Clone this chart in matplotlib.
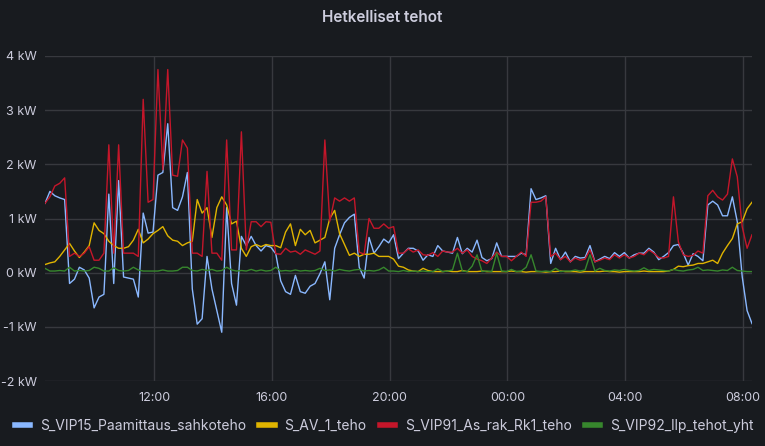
import numpy as np
import pandas as pd
import matplotlib
matplotlib.use("Agg")
import matplotlib.pyplot as plt
import matplotlib.dates as mdates
from matplotlib.lines import Line2D

plt.rcParams["font.family"] = ["Inter", "DejaVu Sans"]

# 10-minute samples, 08:18 -> 08:18 next day (kW)
START = "2023-01-10 08:18"
vip15 = [1.28, 1.5, 1.42, 1.38, 1.35, -0.2, -0.12, 0.1, 0.05, -0.1, -0.65, -0.45,
         -0.4, 1.45, -0.2, 1.7, -0.08, -0.1, -0.12, -0.45, 1.1, 0.73, 0.75, 1.8,
         1.85, 2.75, 1.2, 1.15, 1.4, 1.85, -0.3, -0.95, -0.85, 0.3, -0.3, -0.7,
         -1.1, 1.2, -0.2, -0.6, 0.67, 0.5, 0.67, 0.5, 0.4, 0.5, 0.47, 0.35,
         -0.15, -0.35, -0.4, -0.05, -0.35, -0.38, -0.25, -0.2, -0.02, 0.2, -0.5, 0.45,
         0.7, 0.92, 1.02, 1.08, 0.1, -0.1, 0.65, 0.36, 0.48, 0.62, 0.55, 0.7,
         0.26, 0.36, 0.45, 0.45, 0.4, 0.23, 0.33, 0.3, 0.5, 0.4, 0.38, 0.36,
         0.65, 0.35, 0.45, 0.38, 0.6, 0.28, 0.22, 0.26, 0.55, 0.3, 0.3, 0.3,
         0.3, 0.36, 0.33, 1.55, 1.35, 1.38, 1.42, 0.17, 0.45, 0.24, 0.38, 0.2,
         0.3, 0.27, 0.28, 0.5, 0.2, 0.25, 0.3, 0.26, 0.37, 0.3, 0.37, 0.27,
         0.33, 0.36, 0.36, 0.45, 0.38, 0.24, 0.3, 0.37, 0.5, 0.52, 0.36, 0.14,
         0.35, 0.3, 0.22, 1.25, 1.32, 1.25, 1.05, 1.05, 1.4, 0.94, -0.07, -0.7,
         -0.94]
av1 = [0.15, 0.18, 0.2, 0.3, 0.42, 0.54, 0.4, 0.28, 0.38, 0.5, 0.92, 0.78,
       0.72, 0.58, 0.5, 0.45, 0.45, 0.48, 0.6, 0.8, 0.55, 0.62, 0.72, 0.78,
       0.85, 0.68, 0.6, 0.58, 0.5, 0.55, 0.58, 1.35, 1.1, 1.2, 0.65, 1.2,
       1.4, 1.25, 0.9, 0.95, 0.45, 0.3, 0.48, 0.52, 0.48, 0.52, 0.5, 0.5,
       0.46, 0.75, 0.9, 0.5, 0.8, 0.7, 0.78, 0.55, 0.6, 0.65, 1.0, 1.15,
       0.72, 0.52, 0.32, 0.36, 0.3, 0.34, 0.34, 0.36, 0.3, 0.3, 0.3, 0.25,
       0.12, 0.1, 0.05, 0.03, 0.02, 0.08, 0.04, 0.02, 0.02, 0.02, 0.03, 0.02,
       0.02, 0.04, 0.02, 0.02, 0.02, 0.03, 0.02, 0.02, 0.02, 0.02, 0.02, 0.03,
       0.02, 0.02, 0.01, 0.02, 0.02, 0.02, 0.01, 0.02, 0.02, 0.03, 0.02, 0.02,
       0.02, 0.01, 0.02, 0.02, 0.02, 0.02, 0.03, 0.02, 0.02, 0.01, 0.02, 0.02,
       0.02, 0.02, 0.03, 0.02, 0.02, 0.02, 0.02, 0.03, 0.06, 0.12, 0.11, 0.13,
       0.14, 0.17, 0.17, 0.2, 0.23, 0.17, 0.36, 0.5, 0.63, 0.9, 0.94, 1.18,
       1.3]
vip91 = [1.28, 1.4, 1.6, 1.65, 1.75, 0.3, 0.36, 0.3, 0.36, 0.48, 0.23, 0.23,
         0.36, 2.36, 0.36, 2.36, 0.36, 0.36, 0.36, 0.3, 3.2, 1.3, 1.35, 3.75,
         1.9, 3.75, 1.8, 1.78, 2.45, 2.3, 0.36, 0.36, 0.3, 1.87, 0.36, 0.36,
         0.23, 2.45, 0.42, 0.42, 2.6, 0.42, 0.94, 0.94, 0.85, 0.94, 0.93, 0.35,
         0.34, 0.45, 0.38, 0.4, 0.34, 0.42, 0.38, 0.34, 0.4, 2.45, 0.95, 1.38,
         1.32, 1.38, 1.32, 1.38, 0.38, 0.34, 1.0, 0.82, 0.82, 0.9, 0.82, 0.85,
         0.36, 0.36, 0.44, 0.38, 0.42, 0.33, 0.32, 0.37, 0.3, 0.4, 0.38, 0.38,
         0.45, 0.36, 0.42, 0.3, 0.25, 0.22, 0.17, 0.27, 0.38, 0.3, 0.3, 0.22,
         0.3, 0.38, 0.3, 1.3, 1.3, 1.32, 1.4, 0.3, 0.36, 0.24, 0.3, 0.2,
         0.27, 0.23, 0.25, 0.42, 0.2, 0.23, 0.27, 0.24, 0.33, 0.27, 0.33, 0.27,
         0.3, 0.36, 0.33, 0.42, 0.36, 0.28, 0.27, 0.3, 1.4, 0.57, 0.33, 0.3,
         0.32, 0.4, 0.36, 1.42, 1.52, 1.4, 1.34, 1.45, 2.1, 1.77, 0.85, 0.45,
         0.7]
vip92 = [0.08, 0.03, 0.03, 0.04, 0.03, 0.1, 0.03, 0.04, 0.03, 0.04, 0.1, 0.08,
         0.03, 0.03, 0.09, 0.04, 0.03, 0.04, 0.1, 0.05, 0.03, 0.03, 0.03, 0.03,
         0.05, 0.03, 0.03, 0.04, 0.1, 0.1, 0.04, 0.03, 0.06, 0.04, 0.06, 0.03,
         0.04, 0.1, 0.05, 0.03, 0.04, 0.03, 0.06, 0.03, 0.05, 0.03, 0.04, 0.1,
         0.03, 0.04, 0.03, 0.05, 0.03, 0.04, 0.03, 0.04, 0.08, 0.04, 0.05, 0.03,
         0.06, 0.04, 0.03, 0.05, 0.06, 0.03, 0.04, 0.03, 0.05, 0.1, 0.03, 0.03,
         0.02, 0.04, 0.02, 0.03, 0.02, 0.03, 0.02, 0.02, 0.07, 0.02, 0.03, 0.05,
         0.36, 0.03, 0.02, 0.12, 0.33, 0.02, 0.03, 0.02, 0.36, 0.03, 0.02, 0.06,
         0.02, 0.03, 0.1, 0.33, 0.03, 0.02, 0.03, 0.02, 0.08, 0.02, 0.03, 0.03,
         0.05, 0.03, 0.05, 0.33, 0.03, 0.08, 0.04, 0.03, 0.05, 0.04, 0.06, 0.04,
         0.03, 0.04, 0.09, 0.04, 0.06, 0.05, 0.04, 0.03, 0.06, 0.04, 0.03, 0.05,
         0.06, 0.1, 0.04, 0.05, 0.04, 0.03, 0.05, 0.04, 0.1, 0.04, 0.03, 0.02,
         0.02]
names = ["S_VIP15_Paamittaus_sahkoteho", "S_AV_1_teho",
         "S_VIP91_As_rak_Rk1_teho", "S_VIP92_llp_tehot_yht"]
colors = ["#8ab8ff", "#e0b400", "#c4162a", "#37872d"]
yticks = [-2, -1, 0, 1, 2, 3, 4]

t = pd.date_range(START, periods=len(vip15), freq="10min")
BG = "#181b1f"; FG = "#ccccdc"; GRID = "#37393e"

fig = plt.figure(figsize=(7.65, 4.46), dpi=100, facecolor=BG)
ax = fig.add_axes([45/765, 1-381/446, 707/765, 325/446], facecolor=BG)
for s, c in zip([vip15, av1, vip91, vip92], colors):
    ax.plot(t, s, color=c, lw=1)

ax.set_xlim(t[0], t[-1]); ax.set_ylim(-2, 4)
ax.set_yticks(yticks); ax.set_yticklabels([f"{v} kW" for v in yticks])
ax.xaxis.set_major_locator(mdates.HourLocator(byhour=[0, 4, 8, 12, 16, 20]))
ax.xaxis.set_major_formatter(mdates.DateFormatter("%H:%M"))
ax.grid(True, color=GRID, lw=1)
ax.tick_params(length=0, labelcolor=FG, labelsize=9)
ax.tick_params(axis="x", pad=8); ax.tick_params(axis="y", pad=6)
for sp in ax.spines.values(): sp.set_visible(False)

fig.text(0.5, 1-18/446, "Hetkelliset tehot", ha="center", va="center",
         color=FG, fontsize=11, fontweight="semibold")
handles = [Line2D([], [], color=c, lw=4) for c in colors]
fig.legend(handles, names, loc="center left", bbox_to_anchor=(15/765, 1-426/446),
           ncol=4, frameon=False, fontsize=10, labelcolor=FG, handlelength=1.1,
           handletextpad=0.7, columnspacing=0.95, borderpad=0, borderaxespad=0)

fig.savefig("out.png", dpi=100, facecolor=BG)
